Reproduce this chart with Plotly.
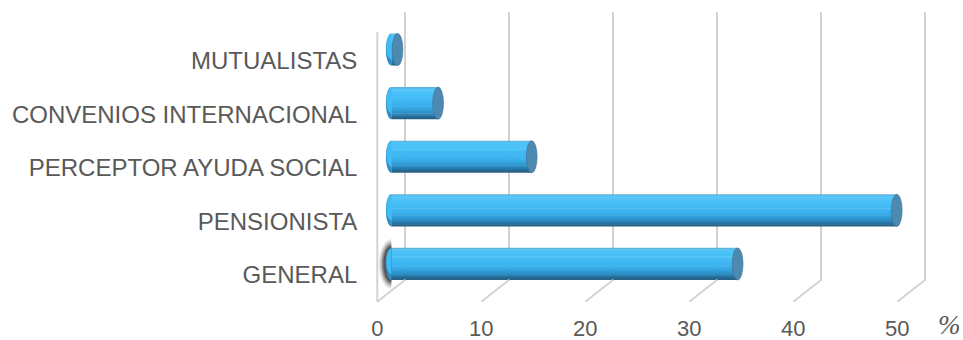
import plotly.graph_objects as go

# ---- data -----------------------------------------------------------------
categories = [
    "GENERAL",
    "PENSIONISTA",
    "PERCEPTOR AYUDA SOCIAL",
    "CONVENIOS INTERNACIONAL",
    "MUTUALISTAS",
]
percentages = [33.3, 48.6, 13.5, 4.5, 0.6]
tick_values = [0, 10, 20, 30, 40, 50]
tick_labels = ["0", "10", "20", "30", "40", "50"]
unit_label = "%"

# ---- geometry of the pseudo-3D box (pixels) ---------------------------------
W, H = 963, 340
PX_PER_UNIT = 10.4          # horizontal pixels per percentage point
FRONT_X0 = 377.3            # x of value 0 on the front plane
FRONT_TOP, FRONT_BOTTOM = 33.7, 301.8
DEPTH_X, DEPTH_Y = 28.0, 22.0   # shift from the front plane to the back wall
X_MAX = 50
X_PAD = 2                   # extra room left of zero for the rounded ends
BAR_T = 0.6                 # cylinder thickness in category units
CAP_HALF = 5.4              # half width of the cylinder end caps (px)
K = 0.5523                  # bezier constant for quarter ellipses

TEXT_COLOR = "#595959"
GRID_COLOR = "#d2d2d2"
FONT = "Liberation Sans, Arial, Helvetica, sans-serif"


def fx(p):
    return p / W


def fy(p):
    return 1 - p / H


def plane(depth):
    """Origin x, top and bottom (px) of a plane at relative depth 0..1."""
    return (FRONT_X0 + DEPTH_X * depth,
            FRONT_TOP - DEPTH_Y * depth,
            FRONT_BOTTOM - DEPTH_Y * depth)


back_x0, back_top, back_bottom = plane(1.0)
mid_x0, mid_top, mid_bottom = plane(0.5)
front_x0, front_top, front_bottom = plane(0.0)
n_cat = len(categories)

fig = go.Figure()

# empty traces so the wall and the label planes exist as subplots
for xa, ya in (("x", "y"), ("x2", "y2")):
    fig.add_trace(go.Scatter(x=[None], y=[None], xaxis=xa, yaxis=ya,
                             mode="markers", showlegend=False, hoverinfo="skip"))

# ---- cylinder bodies: horizontal stripes shaded top-to-bottom ----------------
shade_stops = [
    (0.00, (112, 168, 200)),
    (0.07, (80, 196, 248)),
    (0.30, (68, 190, 247)),
    (0.60, (58, 176, 236)),
    (0.80, (46, 146, 202)),
    (0.93, (36, 110, 155)),
    (1.00, (42, 90, 122)),
]


def shade(t):
    for (t0, c0), (t1, c1) in zip(shade_stops[:-1], shade_stops[1:]):
        if t0 <= t <= t1:
            k = (t - t0) / (t1 - t0)
            r, g, b = (round(a + (bb - a) * k) for a, bb in zip(c0, c1))
            return f"rgb({r},{g},{b})"
    return "rgb(42,90,122)"


N_STRIPES = 18
stripe = BAR_T / N_STRIPES
for i in range(N_STRIPES):
    fig.add_trace(go.Bar(
        y=categories,
        x=percentages,
        orientation="h",
        offset=BAR_T / 2 - (i + 1) * stripe,
        width=stripe * 1.25 if i else stripe,
        marker=dict(color=shade((i + 0.5) / N_STRIPES), line=dict(width=0)),
        xaxis="x3",
        yaxis="y3",
        showlegend=False,
        hoverinfo="skip",
    ))


def cat_frac(pos):
    """Category position -> fraction of the cylinder axis domain."""
    return (pos + 0.5) / n_cat


def half_ellipse_left(center, rx, ry):
    """Left half of an ellipse: x in pixels from the anchor, y in domain fractions."""
    c = cat_frac(center)
    r = ry / n_cat
    return (f"M 0,{c + r} "
            f"C {-K * rx},{c + r} {-rx},{c + K * r} {-rx},{c} "
            f"C {-rx},{c - K * r} {-K * rx},{c - r} 0,{c - r} Z")


shapes = []

# soft shadow behind the base of the first cylinder (stacked translucent layers)
for rx, ry, alpha in ((12.5, 0.46, 0.12), (11.0, 0.42, 0.2), (9.5, 0.38, 0.35),
                      (8.0, 0.34, 0.5)):
    shapes.append(dict(type="path", xref="x3", yref="y3 domain", layer="above",
                       xsizemode="pixel", xanchor=0,
                       path=half_ellipse_left(0, rx, ry),
                       fillcolor=f"rgba(40,40,40,{alpha})", line=dict(width=0)))

for idx, val in enumerate(percentages):
    # rounded start of each cylinder
    shapes.append(dict(type="path", xref="x3", yref="y3 domain", layer="above",
                       xsizemode="pixel", xanchor=0,
                       path=half_ellipse_left(idx, CAP_HALF, BAR_T / 2),
                       fillcolor="rgb(44,140,195)", line=dict(width=0)))
    shapes.append(dict(type="path", xref="x3", yref="y3 domain", layer="above",
                       xsizemode="pixel", xanchor=0,
                       path=half_ellipse_left(idx + 0.05, CAP_HALF - 0.4,
                                              BAR_T / 2 - 0.06),
                       fillcolor="rgb(66,186,244)", line=dict(width=0)))
    # visible end cap at the value
    shapes.append(dict(type="circle", xref="x3", yref="y3 domain", layer="above",
                       xsizemode="pixel", xanchor=val, x0=-CAP_HALF, x1=CAP_HALF,
                       y0=cat_frac(idx - BAR_T / 2), y1=cat_frac(idx + BAR_T / 2),
                       fillcolor="rgb(78,138,176)",
                       line=dict(width=0.6, color="rgb(58,112,148)")))

# floor lines joining the back wall grid to the front axis
for v in tick_values:
    shapes.append(dict(type="line", xref="paper", yref="paper",
                       x0=fx(front_x0 + v * PX_PER_UNIT), y0=fy(front_bottom),
                       x1=fx(back_x0 + v * PX_PER_UNIT), y1=fy(back_bottom),
                       line=dict(color=GRID_COLOR, width=2)))
# left wall front edge
shapes.append(dict(type="line", xref="paper", yref="paper",
                   x0=fx(front_x0), x1=fx(front_x0),
                   y0=fy(front_bottom), y1=fy(front_top - 1.5),
                   line=dict(color=GRID_COLOR, width=2)))

hidden_y = dict(showgrid=False, zeroline=False, showticklabels=False, ticks="",
                showline=False, fixedrange=True, automargin=False)

fig.update_layout(
    width=W,
    height=H,
    margin=dict(l=0, r=0, t=0, b=0, autoexpand=False),
    paper_bgcolor="white",
    plot_bgcolor="rgba(0,0,0,0)",
    barmode="overlay",
    hovermode=False,
    showlegend=False,
    shapes=shapes,
    # back wall with the vertical gridlines
    xaxis=dict(domain=[fx(back_x0 - PX_PER_UNIT), fx(back_x0 + (X_MAX + 1) * PX_PER_UNIT)],
               range=[-1, X_MAX + 1], anchor="y",
               tickmode="array", tickvals=tick_values, showticklabels=False,
               ticks="", showgrid=True, gridcolor=GRID_COLOR, gridwidth=2,
               zeroline=True, zerolinecolor=GRID_COLOR, zerolinewidth=2,
               showline=False, fixedrange=True, automargin=False),
    yaxis=dict(domain=[fy(back_bottom), fy(back_top)], range=[0, 1], anchor="x",
               **hidden_y),
    # front plane: value and category labels
    xaxis2=dict(domain=[fx(front_x0), fx(front_x0 + X_MAX * PX_PER_UNIT)],
                range=[0, X_MAX], anchor="y2",
                tickmode="array", tickvals=tick_values, ticktext=tick_labels,
                ticks="", ticklabelstandoff=11,
                showgrid=False, zeroline=False, showline=False,
                tickfont=dict(family=FONT, size=22, color=TEXT_COLOR),
                fixedrange=True, automargin=False),
    yaxis2=dict(domain=[fy(front_bottom), fy(front_top)],
                range=[-0.5, n_cat - 0.5], anchor="x2",
                tickmode="array", tickvals=list(range(n_cat)),
                ticktext=categories, ticks="", ticklabelstandoff=19,
                showgrid=False, zeroline=False, showline=False,
                tickfont=dict(family=FONT, size=24, color=TEXT_COLOR),
                fixedrange=True, automargin=False),
    # middle plane holding the cylinders (a little room left of zero)
    xaxis3=dict(domain=[fx(mid_x0 - X_PAD * PX_PER_UNIT),
                        fx(mid_x0 + X_MAX * PX_PER_UNIT)],
                range=[-X_PAD, X_MAX], anchor="y3", visible=False,
                fixedrange=True, automargin=False),
    yaxis3=dict(domain=[fy(mid_bottom), fy(mid_top)], anchor="x3",
                type="category", categoryarray=categories,
                range=[-0.5, n_cat - 0.5], visible=False,
                fixedrange=True, automargin=False),
    annotations=[dict(text=unit_label, xref="paper", yref="paper",
                      x=fx(949), y=fy(325), xanchor="center", yanchor="middle",
                      showarrow=False,
                      font=dict(family="Liberation Serif, Times New Roman, serif",
                                size=27, color=TEXT_COLOR, style="italic"))],
)

fig.write_html("out.html", config={"displayModeBar": False})
